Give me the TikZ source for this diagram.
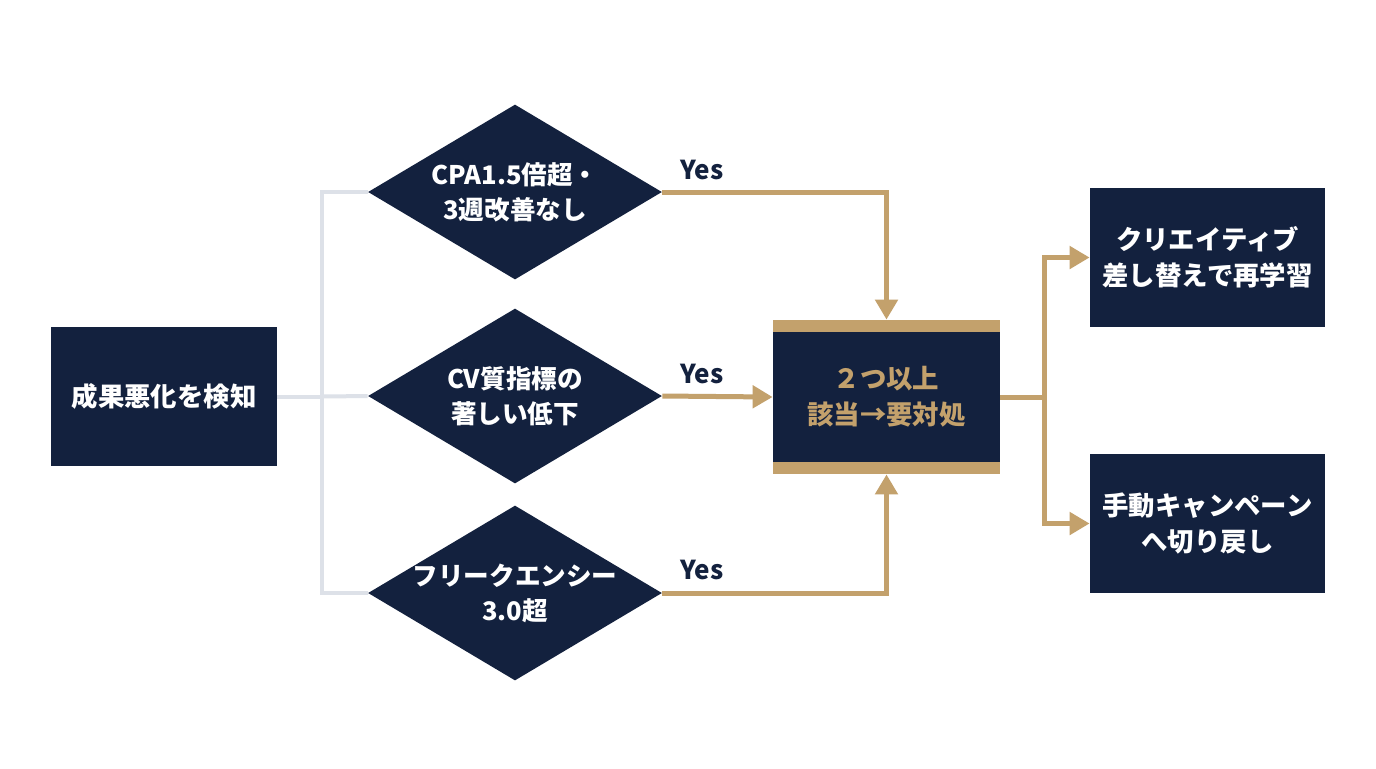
\documentclass[tikz,border=0pt]{standalone}
\usepackage{fontspec}
\setmainfont{Noto Sans CJK JP}
\usetikzlibrary{shapes.geometric,arrows.meta}
\definecolor{navy}{HTML}{13213E}
\definecolor{gold}{HTML}{C3A16C}
\definecolor{lgray}{HTML}{DDE1E8}
\begin{document}
\begin{tikzpicture}[x=0.5pt,y=-0.5pt,
  boxnode/.style={rectangle,fill=navy,text=white,inner sep=0pt,align=center,font=\bfseries\fontsize{13.2}{18}\selectfont},
  decnode/.style={diamond,fill=navy,text=white,inner sep=-12pt,aspect=1.68,minimum width=147pt,minimum height=87.5pt,align=center,font=\bfseries\fontsize{12.8}{17.5}\selectfont},
  yeslabel/.style={text=navy,inner sep=0pt,font=\bfseries\fontsize{13}{15}\selectfont},
  grayline/.style={draw=lgray,line width=2pt},
  goldline/.style={draw=gold,line width=2.5pt},
  goldarrow/.style={goldline,-{Triangle[width=11pt,length=10pt]}}
]
\useasboundingbox[fill=white] (0,0) rectangle (1376,768);

\node[boxnode,minimum width=113pt,minimum height=69.5pt] (start) at (164,396.5) {成果悪化を検知};

\node[decnode] (d1) at (515,192) {CPA1.5倍超・\\3週改善なし};
\node[decnode] (d2) at (515,396) {CV質指標の\\著しい低下};
\node[decnode] (d3) at (515,593) {フリークエンシー\\3.0超};

\node[boxnode,minimum width=113.5pt,minimum height=77pt,text=gold] (c) at (886.5,397) {２つ以上\\該当→要対処};
\fill[gold] (c.north west) rectangle ([yshift=-6pt]c.north east);
\fill[gold] (c.south west) rectangle ([yshift=6pt]c.south east);

\node[boxnode,minimum width=117.5pt,minimum height=69.5pt] (r1) at (1207.5,257.5) {クリエイティブ\\差し替えで再学習};
\node[boxnode,minimum width=117.5pt,minimum height=69.5pt] (r2) at (1207.5,523.5) {手動キャンペーン\\へ切り戻し};

\node[yeslabel] (y1) at (702,170) {Yes};
\node[yeslabel] (y2) at (702,374) {Yes};
\node[yeslabel] (y3) at (702,570) {Yes};

\coordinate (split) at (322,396.5);
\draw[grayline] (start.east) -- (split);
\draw[grayline] (d1.west) -| (split) |- (d3.west);
\draw[grayline] (split) -- (d2.west);

\draw[goldarrow] (d1.east) -| (c.north);
\draw[goldarrow] (d2.east) -- (c.west);
\draw[goldarrow] (d3.east) -| (c.south);

\coordinate (rsplit) at (1044,397);
\draw[goldline] (c.east) -- (rsplit);
\draw[goldarrow] (rsplit) |- (r1.west);
\draw[goldarrow] (rsplit) |- (r2.west);
\end{tikzpicture}
\end{document}
